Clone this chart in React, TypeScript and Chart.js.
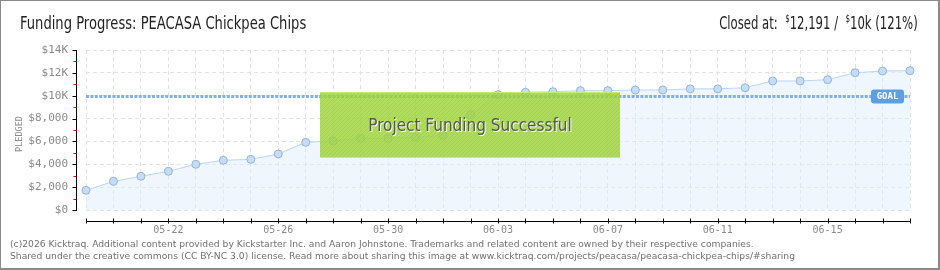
import React, { useEffect, useRef } from 'react';
import { Chart, registerables } from 'chart.js';

Chart.register(...registerables);

const DATES = [
  '05-19', '05-20', '05-21', '05-22', '05-23', '05-24', '05-25', '05-26', '05-27', '05-28',
  '05-29', '05-30', '05-31', '06-01', '06-02', '06-03', '06-04', '06-05', '06-06', '06-07',
  '06-08', '06-09', '06-10', '06-11', '06-12', '06-13', '06-14', '06-15', '06-16', '06-17', '06-18',
];
const PLEDGED = [
  1720, 2510, 2950, 3390, 4000, 4350, 4430, 4900, 5920, 6040,
  6270, 6270, 6360, 6530, 8340, 10090, 10300, 10350, 10440, 10440,
  10500, 10500, 10600, 10600, 10700, 11290, 11290, 11400, 12010, 12160, 12191,
];
const GOAL = 10000;
const Y_TICK_VALUES = [0, 2000, 4000, 6000, 8000, 10000, 12000, 14000];
const Y_TICK_LABELS = ['$0', '$2,000', '$4,000', '$6,000', '$8,000', '$10K', '$12K', '$14K'];
const X_SHOWN_LABELS = ['05-22', '05-26', '05-30', '06-03', '06-07', '06-11', '06-15'];

const TITLE = 'Funding Progress: PEACASA Chickpea Chips';
const FOOTER_1 = '(c)2026 Kicktraq. Additional content provided by Kickstarter Inc. and Aaron Johnstone. Trademarks and related content are owned by their respective companies.';
const FOOTER_2 = 'Shared under the creative commons (CC BY-NC 3.0) license. Read more about sharing this image at www.kicktraq.com/projects/peacasa/peacasa-chickpea-chips/#sharing';

const MONO = '"DejaVu Sans Mono", monospace';

const overlayPlugin = {
  id: 'kicktraqOverlay',
  afterDatasetsDraw(chart: any) {
    const { ctx, chartArea, scales } = chart;
    const y = scales.y;
    ctx.save();

    // goal line
    const gy = Math.round(y.getPixelForValue(GOAL)) + 0.5;
    ctx.strokeStyle = 'rgba(125,172,225,0.95)';
    ctx.lineWidth = 3;
    ctx.setLineDash([3, 1.4]);
    ctx.beginPath();
    ctx.moveTo(chartArea.left, gy);
    ctx.lineTo(chartArea.right, gy);
    ctx.stroke();
    ctx.setLineDash([]);

    // success box
    const bw = 300;
    const bh = 66;
    const bx = Math.round(chart.width / 2 - bw / 2);
    const by = 92;
    ctx.fillStyle = 'rgba(160,214,60,0.82)';
    ctx.fillRect(bx, by, bw, bh);
    ctx.save();
    ctx.beginPath();
    ctx.rect(bx, by, bw, bh);
    ctx.clip();
    ctx.strokeStyle = 'rgba(135,190,45,0.3)';
    ctx.lineWidth = 1;
    for (let d = -bh; d < bw + bh; d += 4) {
      ctx.beginPath();
      ctx.moveTo(bx + d, by + bh);
      ctx.lineTo(bx + d + bh, by);
      ctx.stroke();
    }
    ctx.restore();
    ctx.fillStyle = 'rgba(200,240,120,0.9)';
    ctx.fillRect(bx, by + bh - 1, bw, 1);
    ctx.fillRect(bx, by, bw, 1);

    ctx.font = '17px "DejaVu Sans Condensed", "DejaVu Sans", sans-serif';
    ctx.textAlign = 'center';
    ctx.textBaseline = 'middle';
    const ty = by + bh / 2 + 2;
    ctx.fillStyle = 'rgba(255,255,255,0.9)';
    ctx.fillText('Project Funding Successful', bx + bw / 2 + 1, ty + 1);
    ctx.fillStyle = '#555';
    ctx.fillText('Project Funding Successful', bx + bw / 2, ty);

    // GOAL label
    const lw = 33;
    const lh = 14;
    const lx = chartArea.right - 6 - lw;
    const ly = gy - lh / 2;
    ctx.fillStyle = '#5e9fe0';
    ctx.beginPath();
    (ctx as any).roundRect(lx, ly, lw, lh, 3);
    ctx.fill();
    ctx.fillStyle = '#fff';
    ctx.font = 'bold 9px ' + MONO;
    ctx.fillText('GOAL', lx + lw / 2, gy + 0.5);

    ctx.restore();
  },
  afterDraw(chart: any) {
    const { ctx, chartArea, scales } = chart;
    const y = scales.y;
    const x = scales.x;
    ctx.save();
    // y axis line
    const ax = Math.round(chartArea.left) - 10 + 0.5;
    ctx.strokeStyle = '#000';
    ctx.lineWidth = 1;
    ctx.beginPath();
    ctx.moveTo(ax, Math.round(chartArea.top));
    ctx.lineTo(ax, Math.round(chartArea.bottom) + 1);
    ctx.stroke();
    for (let v = 0; v <= 14000; v += 1000) {
      const py = Math.round(y.getPixelForValue(v)) + 0.5;
      const major = v % 2000 === 0;
      ctx.strokeStyle = major ? '#000' : '#e00000';
      ctx.beginPath();
      ctx.moveTo(ax - (major ? 4 : 3), py);
      ctx.lineTo(ax, py);
      ctx.stroke();
    }
    // x axis line
    const ay = Math.round(chartArea.bottom) + 11 + 0.5;
    ctx.strokeStyle = '#000';
    ctx.beginPath();
    ctx.moveTo(Math.round(chartArea.left), ay);
    ctx.lineTo(Math.round(chartArea.right) + 1, ay);
    ctx.stroke();
    for (let i = 0; i < DATES.length; i++) {
      const px = Math.round(x.getPixelForValue(i)) + 0.5;
      ctx.beginPath();
      ctx.moveTo(px, ay - 3);
      ctx.lineTo(px, ay + 2);
      ctx.stroke();
    }
    // y axis title
    ctx.translate(20, (chartArea.top + chartArea.bottom) / 2 + 4);
    ctx.rotate(-Math.PI / 2);
    ctx.font = '8.5px ' + MONO;
    ctx.fillStyle = '#8a8a8a';
    ctx.textAlign = 'center';
    ctx.textBaseline = 'middle';
    ctx.fillText('PLEDGED', 0, 0);
    ctx.restore();
  },
};

export default function App() {
  const ref = useRef<HTMLCanvasElement | null>(null);

  useEffect(() => {
    document.body.style.margin = '0';
    const canvas = ref.current;
    if (!canvas) return;
    const chart = new Chart(canvas, {
      type: 'line',
      data: {
        labels: DATES,
        datasets: [
          {
            data: PLEDGED,
            borderColor: '#b9d5f2',
            borderWidth: 1,
            fill: 'origin',
            backgroundColor: 'rgba(220,235,251,0.45)',
            pointRadius: 4,
            pointBackgroundColor: '#c5ddf6',
            pointBorderColor: '#93b4da',
            pointBorderWidth: 1,
            tension: 0,
          },
        ],
      },
      options: {
        animation: false,
        responsive: false,
        maintainAspectRatio: false,
        events: [],
        layout: { padding: { top: 50, right: 30, left: 0, bottom: 0 } },
        plugins: {
          legend: { display: false },
          tooltip: { enabled: false },
          title: { display: false },
        },
        scales: {
          x: {
            type: 'category',
            offset: false,
            grid: { color: '#e3e3e3', drawTicks: false, lineWidth: 1 },
            border: { display: false, dash: [4, 3] },
            ticks: {
              autoSkip: false,
              maxRotation: 0,
              minRotation: 0,
              padding: 14,
              color: '#8a8a8a',
              font: { family: MONO, size: 10 },
              callback: (_v: any, i: number) => (X_SHOWN_LABELS.includes(DATES[i]) ? DATES[i] : ''),
            },
            afterFit: (s: any) => {
              s.height = 60;
            },
          },
          y: {
            min: 0,
            max: 14000,
            grid: { color: '#e3e3e3', drawTicks: false, lineWidth: 1 },
            border: { display: false, dash: [4, 3] },
            ticks: {
              stepSize: 2000,
              padding: 18,
              color: '#8a8a8a',
              font: { family: MONO, size: 11 },
              callback: (v: any) => {
                const idx = Y_TICK_VALUES.indexOf(Number(v));
                return idx >= 0 ? Y_TICK_LABELS[idx] : '';
              },
            },
            afterFit: (s: any) => {
              s.width = 86;
            },
          },
        },
      },
      plugins: [overlayPlugin],
    } as any);
    return () => chart.destroy();
  }, []);

  const headFont = '18px "DejaVu Sans Condensed", "DejaVu Sans", sans-serif';

  return (
    <div
      style={{
        position: 'relative',
        width: 940,
        height: 270,
        boxSizing: 'border-box',
        overflow: 'hidden',
        background: '#fff',
      }}
    >
      <canvas ref={ref} width={940} height={270} style={{ position: 'absolute', left: 0, top: 0, width: 940, height: 270 }} />
      <div
        style={{
          position: 'absolute',
          left: 0,
          top: 0,
          width: 940,
          height: 270,
          boxSizing: 'border-box',
          borderTop: '1px solid #8a8a8a',
          borderLeft: '1px solid #8a8a8a',
          borderRight: '2px solid #8a8a8a',
          borderBottom: '2px solid #8a8a8a',
          pointerEvents: 'none',
        }}
      />
      <div
        style={{
          position: 'absolute',
          left: 20,
          top: 12,
          font: headFont,
          color: '#222',
          whiteSpace: 'nowrap',
          transform: 'scaleX(0.81)',
          transformOrigin: 'left center',
        }}
      >
        {TITLE}
      </div>
      <div
        style={{
          position: 'absolute',
          right: 22,
          top: 12,
          font: headFont,
          color: '#222',
          whiteSpace: 'nowrap',
          transform: 'scaleX(0.72)',
          transformOrigin: 'right center',
        }}
      >
        Closed at:&nbsp; <sup style={{ fontSize: 11 }}>$</sup>12,191 /&nbsp; <sup style={{ fontSize: 11 }}>$</sup>10k (121%)
      </div>
      <div
        style={{
          position: 'absolute',
          left: 10,
          top: 238,
          font: '9.2px "DejaVu Sans", sans-serif',
          lineHeight: '12px',
          color: '#707070',
          whiteSpace: 'nowrap',
        }}
      >
        <div>{FOOTER_1}</div>
        <div>{FOOTER_2}</div>
      </div>
    </div>
  );
}
